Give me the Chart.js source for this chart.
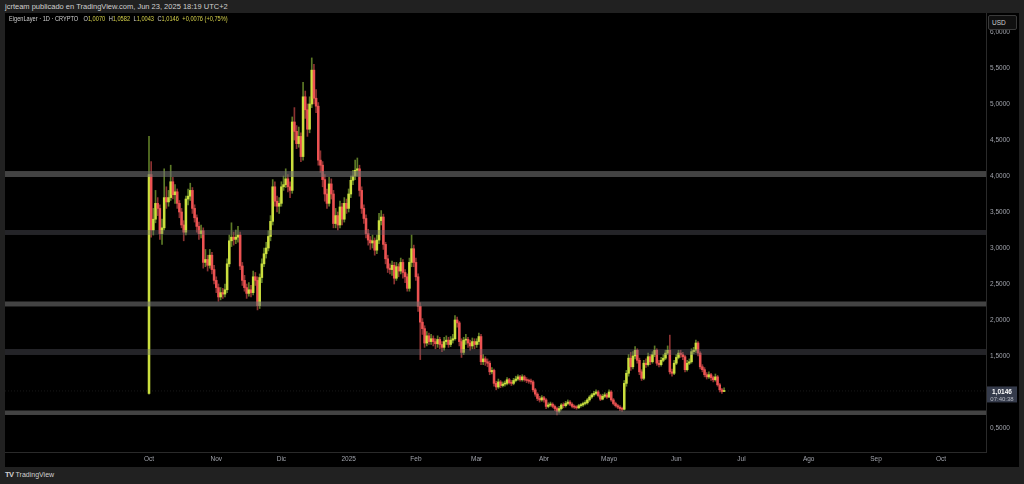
<!DOCTYPE html>
<html lang="es">
<head>
<meta charset="utf-8">
<title>EigenLayer · 1D</title>
<script src="https://cdn.jsdelivr.net/npm/chart.js@4.4.1/dist/chart.umd.min.js"></script>
<style>
  html, body { margin: 0; padding: 0; }
  body {
    width: 1024px; height: 484px; overflow: hidden; position: relative;
    background: #212121; font-family: "Liberation Sans", Arial, sans-serif;
  }
  #cabecera { position: absolute; left: 5px; top: 2px; font-size: 7.5px; color: #cfcfcf; white-space: nowrap; }
  #panel { position: absolute; left: 5px; top: 13px; width: 1014px; height: 454px; background: #000; }
  #grafico { position: absolute; left: 0; top: 0; }
  #leyenda {
    position: absolute; left: 4px; top: 2px; font-size: 6.5px; color: #cfcfcf;
    white-space: nowrap; display: flex; transform: scaleX(0.87); transform-origin: left top;
  }
  #leyenda > span { margin-right: 4px; }
  #leyenda > span.simbolo { margin-right: 6px; }
  .val { color: #d6d24a; }
  #usd {
    position: absolute; left: 983px; top: 2px; width: 29px; height: 15px;
    border: 1px solid #3a3a3a; border-radius: 2px; background: #101010;
    font-size: 6.5px; color: #cfcfcf; line-height: 13px; padding-left: 3px; box-sizing: border-box;
  }
  #pie { position: absolute; left: 5px; top: 470px; font-size: 7px; color: #d0d0d0; white-space: nowrap; }
  #pie b { font-size: 7.5px; letter-spacing: -0.5px; margin-right: 2px; }
</style>
</head>
<body>
<div id="cabecera">jcrteam publicado en TradingView.com, Jun 23, 2025 18:19 UTC+2</div>
<div id="panel">
  <canvas id="grafico" width="1014" height="454"></canvas>
  <div id="leyenda"><span class="simbolo">EigenLayer · 1D · CRYPTO</span><span>O<span class="val">1,0070</span></span><span>H<span class="val">1,0582</span></span><span>L<span class="val">1,0043</span></span><span>C<span class="val">1,0146</span></span><span class="val">+0,0076 (+0,75%)</span></div>
  <div id="usd">USD</div>
</div>
<div id="pie"><b>TV</b>TradingView</div>

<script>
// Velas diarias desde el 1 de octubre de 2024 (índice = días desde esa fecha)
const fechaInicio = '2024-10-01';
const aperturaInicial = 0.98;

const cierres = [
  4.02, 3.25, 3.40, 3.62, 3.55, 3.20, 3.28, 3.70, 3.64, 3.70,
  3.92, 3.74, 3.78, 3.62, 3.50, 3.32, 3.22, 3.68, 3.72, 3.80,
  3.55, 3.42, 3.30, 3.20, 3.24, 2.80, 2.84, 2.76, 2.90, 2.70,
  2.55, 2.45, 2.32, 2.38, 2.36, 2.42, 2.78, 3.10, 3.15, 3.12,
  3.15, 3.18, 2.75, 2.55, 2.45, 2.37, 2.42, 2.38, 2.60, 2.55,
  2.20, 2.59, 2.78, 2.92, 3.00, 3.16, 3.37, 3.85, 3.65, 3.58,
  3.62, 3.85, 3.88, 3.96, 3.85, 3.80, 4.75, 4.62, 4.45, 4.55,
  4.27, 5.10, 4.92, 4.65, 5.00, 5.47, 5.08, 4.97, 4.22, 4.15,
  3.95, 3.75, 3.62, 3.89, 3.75, 3.34, 3.45, 3.32, 3.57, 3.40,
  3.62, 3.55, 3.75, 3.94, 4.00, 4.08, 4.10, 3.80, 3.55, 3.41,
  3.20, 3.11, 3.07, 3.10, 2.97, 3.11, 3.38, 3.43, 3.05, 2.85,
  2.72, 2.70, 2.76, 2.58, 2.74, 2.68, 2.80, 2.66, 2.60, 2.44,
  2.80, 2.99, 2.80, 2.60, 2.19, 1.97, 1.88, 1.68, 1.78, 1.70,
  1.74, 1.70, 1.67, 1.73, 1.66, 1.62, 1.70, 1.72, 1.66, 1.72,
  1.74, 2.00, 1.96, 1.70, 1.55, 1.72, 1.73, 1.68, 1.64, 1.70,
  1.66, 1.70, 1.77, 1.42, 1.46, 1.42, 1.40, 1.28, 1.30, 1.12,
  1.07, 1.14, 1.09, 1.11, 1.12, 1.17, 1.13, 1.12, 1.16, 1.18,
  1.21, 1.17, 1.21, 1.17, 1.16, 1.15, 1.14, 1.03, 0.97, 0.91,
  0.89, 0.92, 0.89, 0.80, 0.82, 0.83, 0.80, 0.77, 0.73, 0.77,
  0.82, 0.81, 0.84, 0.86, 0.83, 0.80, 0.79, 0.78, 0.81, 0.82,
  0.84, 0.85, 0.89, 0.93, 0.96, 0.98, 1.00, 0.95, 0.90, 0.94,
  0.96, 0.93, 1.00, 0.89, 0.84, 0.81, 0.79, 0.77, 0.76, 1.12,
  1.26, 1.47, 1.35, 1.50, 1.58, 1.44, 1.28, 1.19, 1.40, 1.38,
  1.49, 1.42, 1.52, 1.58, 1.40, 1.38, 1.44, 1.47, 1.54, 1.58,
  1.28, 1.26, 1.40, 1.48, 1.54, 1.52, 1.49, 1.31, 1.40, 1.42,
  1.56, 1.58, 1.68, 1.54, 1.35, 1.31, 1.24, 1.21, 1.24, 1.20,
  1.17, 1.21, 1.10, 1.03, 1.0070, 1.0146
];

const maximos = [
  4.55, 4.20, 3.55, 3.80, 3.70, 3.60, 3.40, 4.10, 3.85, 3.80,
  4.15, 3.98, 3.88, 3.82, 3.66, 3.55, 3.38, 3.72, 3.82, 3.90,
  3.84, 3.60, 3.46, 3.36, 3.32, 3.28, 2.98, 2.90, 2.98, 2.94,
  2.76, 2.60, 2.50, 2.45, 2.44, 2.50, 2.85, 3.18, 3.35, 3.22,
  3.25, 3.30, 3.22, 2.80, 2.62, 2.50, 2.52, 2.48, 2.68, 2.66,
  2.60, 2.64, 2.85, 3.00, 3.08, 3.24, 3.45, 3.95, 3.92, 3.72,
  3.70, 3.92, 4.00, 4.10, 4.02, 3.92, 4.82, 4.95, 4.70, 4.68,
  4.60, 5.30, 5.18, 5.00, 5.10, 5.64, 5.55, 5.20, 5.02, 4.35,
  4.20, 4.02, 3.82, 3.98, 3.96, 3.80, 3.55, 3.50, 3.65, 3.62,
  3.70, 3.68, 3.82, 4.00, 4.08, 4.22, 4.25, 4.15, 3.85, 3.60,
  3.46, 3.26, 3.16, 3.18, 3.14, 3.18, 3.48, 3.52, 3.47, 3.08,
  2.90, 2.78, 2.82, 2.80, 2.80, 2.78, 2.86, 2.84, 2.70, 2.64,
  2.86, 3.18, 3.04, 2.86, 2.64, 2.24, 2.02, 1.92, 1.84, 1.82,
  1.80, 1.78, 1.74, 1.78, 1.76, 1.70, 1.76, 1.78, 1.76, 1.77,
  1.80, 2.06, 2.04, 1.98, 1.74, 1.76, 1.80, 1.76, 1.72, 1.75,
  1.74, 1.74, 1.82, 1.80, 1.52, 1.49, 1.46, 1.43, 1.34, 1.32,
  1.15, 1.18, 1.16, 1.14, 1.15, 1.20, 1.19, 1.16, 1.19, 1.22,
  1.24, 1.23, 1.24, 1.23, 1.20, 1.18, 1.18, 1.16, 1.05, 0.99,
  0.94, 0.95, 0.94, 0.91, 0.85, 0.86, 0.85, 0.82, 0.79, 0.80,
  0.84, 0.85, 0.87, 0.89, 0.88, 0.85, 0.82, 0.81, 0.83, 0.84,
  0.86, 0.88, 0.91, 0.95, 0.98, 1.01, 1.03, 1.02, 0.97, 0.97,
  0.99, 0.98, 1.03, 1.02, 0.91, 0.86, 0.83, 0.81, 0.79, 1.16,
  1.30, 1.52, 1.55, 1.56, 1.63, 1.60, 1.47, 1.31, 1.44, 1.46,
  1.54, 1.52, 1.56, 1.64, 1.60, 1.44, 1.48, 1.52, 1.58, 1.64,
  1.79, 1.32, 1.44, 1.52, 1.58, 1.58, 1.55, 1.51, 1.44, 1.46,
  1.60, 1.62, 1.72, 1.70, 1.56, 1.38, 1.34, 1.27, 1.28, 1.26,
  1.22, 1.25, 1.23, 1.12, 1.05, 1.0582
];

const minimos = [
  0.97, 3.15, 3.18, 3.35, 3.45, 3.12, 3.05, 3.25, 3.55, 3.58,
  3.66, 3.68, 3.62, 3.55, 3.42, 3.28, 3.10, 3.18, 3.60, 3.66,
  3.48, 3.36, 3.22, 3.12, 3.14, 2.72, 2.74, 2.68, 2.72, 2.64,
  2.50, 2.38, 2.26, 2.28, 2.30, 2.32, 2.38, 2.74, 3.02, 3.04,
  3.06, 3.08, 2.70, 2.48, 2.40, 2.30, 2.33, 2.32, 2.35, 2.48,
  2.14, 2.16, 2.52, 2.74, 2.86, 2.96, 3.10, 3.32, 3.58, 3.50,
  3.48, 3.58, 3.80, 3.84, 3.78, 3.70, 3.76, 4.50, 4.38, 4.40,
  4.20, 4.22, 4.80, 4.55, 4.60, 4.95, 5.00, 4.88, 4.15, 4.05,
  3.85, 3.65, 3.55, 3.58, 3.68, 3.28, 3.28, 3.25, 3.28, 3.32,
  3.36, 3.48, 3.50, 3.70, 3.88, 3.95, 4.00, 3.72, 3.48, 3.34,
  3.14, 3.04, 2.98, 3.00, 2.90, 2.92, 3.06, 3.32, 2.98, 2.78,
  2.66, 2.64, 2.62, 2.50, 2.55, 2.60, 2.64, 2.58, 2.52, 2.40,
  2.40, 2.74, 2.74, 2.55, 2.12, 1.45, 1.80, 1.62, 1.64, 1.66,
  1.66, 1.64, 1.60, 1.62, 1.60, 1.56, 1.58, 1.66, 1.62, 1.63,
  1.68, 1.72, 1.90, 1.64, 1.48, 1.52, 1.66, 1.62, 1.58, 1.60,
  1.60, 1.62, 1.66, 1.38, 1.38, 1.37, 1.35, 1.24, 1.25, 1.08,
  1.03, 1.05, 1.06, 1.07, 1.08, 1.10, 1.11, 1.09, 1.10, 1.14,
  1.16, 1.15, 1.15, 1.15, 1.13, 1.12, 1.11, 1.00, 0.94, 0.88,
  0.86, 0.87, 0.86, 0.77, 0.78, 0.80, 0.78, 0.74, 0.68, 0.71,
  0.75, 0.78, 0.79, 0.82, 0.81, 0.78, 0.77, 0.76, 0.77, 0.79,
  0.80, 0.82, 0.83, 0.87, 0.91, 0.94, 0.96, 0.93, 0.88, 0.89,
  0.92, 0.91, 0.92, 0.87, 0.82, 0.79, 0.77, 0.74, 0.73, 0.75,
  1.08, 1.22, 1.30, 1.32, 1.46, 1.40, 1.24, 1.16, 1.17, 1.34,
  1.36, 1.38, 1.40, 1.49, 1.37, 1.35, 1.36, 1.42, 1.45, 1.52,
  1.25, 1.22, 1.24, 1.38, 1.46, 1.48, 1.45, 1.28, 1.29, 1.38,
  1.40, 1.53, 1.55, 1.50, 1.32, 1.28, 1.21, 1.18, 1.19, 1.16,
  1.14, 1.15, 1.08, 1.00, 0.98, 1.0043
];

// Etiquetas del eje temporal (día 1 de cada mes respecto a fechaInicio)
const diasMes = [0, 31, 61, 92, 123, 151, 182, 212, 243, 273, 304, 335, 365];
const etiquetasMes = ['Oct', 'Nov', 'Dic', '2025', 'Feb', 'Mar', 'Abr', 'Mayo', 'Jun', 'Jul', 'Ago', 'Sep', 'Oct'];

// Niveles del eje de precios
const nivelesY = [0.5, 1.0, 1.5, 2.0, 2.5, 3.0, 3.5, 4.0, 4.5, 5.0, 5.5, 6.0];

// Zonas de soporte / resistencia dibujadas en el gráfico
const zonas = [[3.986, 4.069], [3.181, 3.25], [2.188, 2.257], [1.514, 1.597], [0.681, 0.743]];

// La vela abre donde cerró la anterior (mercado 24/7)
const aperturas = cierres.map((c, i) => i === 0 ? aperturaInicial : cierres[i - 1]);
const ultimo = cierres[cierres.length - 1];

const X_MIN = -66.36, X_MAX = 385.7;
const COLOR_SUBE = '#cbdf3e', COLOR_BAJA = '#ec5252';
const MECHA_SUBE = '#5d7a26', MECHA_BAJA = '#8c3232';
const TEXTO_EJE = '#a0a3ab';

const sube = i => cierres[i] >= aperturas[i];

// Zonas grises semitransparentes (encima de las velas, como en TradingView)
const pluginZonas = {
  id: 'zonas',
  afterDatasetsDraw(chart) {
    const { ctx, chartArea, scales } = chart;
    ctx.save();
    zonas.forEach((z, i) => {
      const y1 = scales.y.getPixelForValue(z[1]);
      const y2 = scales.y.getPixelForValue(z[0]);
      ctx.fillStyle = i % 2 === 0 ? 'rgba(112,112,112,0.6)' : 'rgba(100,100,112,0.36)';
      ctx.fillRect(chartArea.left, y1, chartArea.right - chartArea.left, y2 - y1);
    });
    ctx.restore();
  }
};

// Etiqueta del último precio en el eje derecho
const pluginPrecio = {
  id: 'precio',
  afterDraw(chart) {
    const { ctx, chartArea, scales } = chart;
    const y = scales.y.getPixelForValue(ultimo);
    const x = chartArea.right + 1;
    ctx.save();
    ctx.fillStyle = '#353b4b';
    ctx.fillRect(x, y - 4.5, 30, 16);
    ctx.textAlign = 'center';
    ctx.textBaseline = 'middle';
    ctx.fillStyle = '#ffffff';
    ctx.font = 'bold 6.5px "Liberation Sans", Arial, sans-serif';
    ctx.fillText(ultimo.toFixed(4).replace('.', ','), x + 15, y + 0.8);
    ctx.fillStyle = '#b8bbc4';
    ctx.font = '6px "Liberation Sans", Arial, sans-serif';
    ctx.fillText('07:40:38', x + 15, y + 8);
    ctx.restore();
  }
};

const sinPadding = s => { s.paddingTop = 0; s.paddingBottom = 0; s.paddingLeft = 0; s.paddingRight = 0; };

const ctx = document.getElementById('grafico').getContext('2d');
new Chart(ctx, {
  type: 'bar',
  data: {
    datasets: [
      {
        // línea punteada del último precio
        type: 'line',
        data: [{ x: X_MIN, y: ultimo }, { x: X_MAX, y: ultimo }],
        borderColor: 'rgba(120,120,120,0.2)',
        borderWidth: 1,
        borderDash: [1, 2],
        pointRadius: 0,
        order: 3
      },
      {
        // mechas
        data: cierres.map((c, i) => ({ x: i, y: [minimos[i], maximos[i]] })),
        backgroundColor: ctx => sube(ctx.dataIndex) ? MECHA_SUBE : MECHA_BAJA,
        barThickness: 1,
        grouped: false,
        order: 2
      },
      {
        // cuerpos
        data: cierres.map((c, i) => ({ x: i, y: [aperturas[i], c] })),
        backgroundColor: ctx => sube(ctx.dataIndex) ? COLOR_SUBE : COLOR_BAJA,
        barThickness: 1.9,
        minBarLength: 1,
        grouped: false,
        order: 1
      }
    ]
  },
  options: {
    responsive: false,
    animation: false,
    layout: { padding: 0 },
    plugins: { legend: { display: false }, tooltip: { enabled: false } },
    scales: {
      x: {
        type: 'linear',
        min: X_MIN,
        max: X_MAX,
        offset: false,
        grid: { display: false, drawTicks: false },
        border: { display: true, color: '#2a2a2a' },
        ticks: {
          autoSkip: false, maxRotation: 0, padding: 3, color: TEXTO_EJE,
          font: { size: 6.5, family: '"Liberation Sans", Arial, sans-serif' },
          callback: (v, i) => etiquetasMes[i]
        },
        afterBuildTicks: s => { s.ticks = diasMes.map(v => ({ value: v })); },
        afterFit: s => { s.height = 15; sinPadding(s); }
      },
      y: {
        position: 'right',
        min: 0.1667,
        max: 6.2639,
        grid: { display: false, drawTicks: false },
        border: { display: true, color: '#2a2a2a' },
        ticks: {
          padding: 4, color: TEXTO_EJE,
          font: { size: 6.5, family: '"Liberation Sans", Arial, sans-serif' },
          callback: v => v.toFixed(4).replace('.', ',')
        },
        afterBuildTicks: s => { s.ticks = nivelesY.map(v => ({ value: v })); },
        afterFit: s => { s.width = 33; sinPadding(s); }
      }
    }
  },
  plugins: [pluginZonas, pluginPrecio]
});
</script>
</body>
</html>
